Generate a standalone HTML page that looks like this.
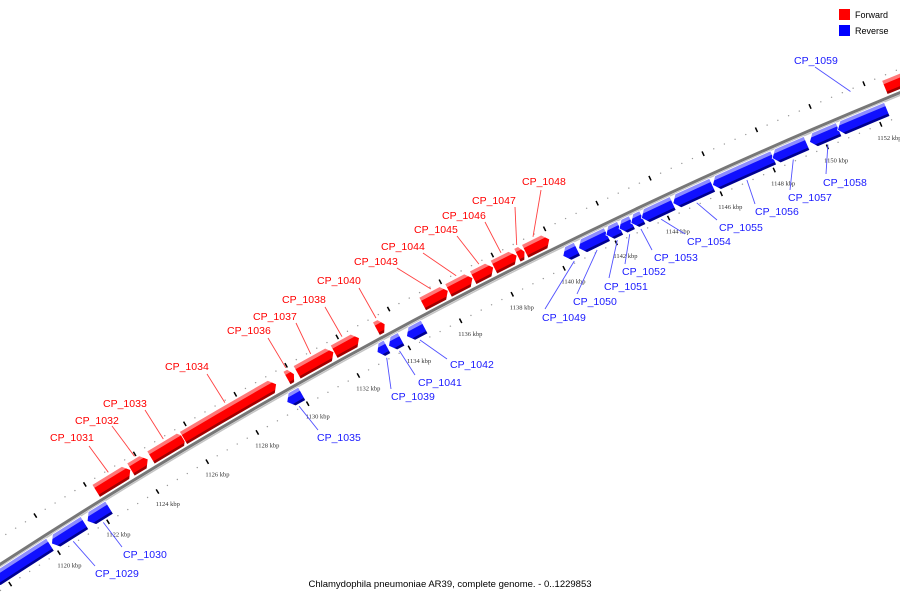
<!DOCTYPE html>
<html><head><meta charset="utf-8"><title>Genome map</title>
<style>html,body{margin:0;padding:0;background:#fff}svg{display:block}</style></head>
<body>
<svg id="chart" width="900" height="600" viewBox="0 0 900 600" xmlns="http://www.w3.org/2000/svg">
<defs id="defs"></defs>
<g id="rings"></g>
<g id="backbone"></g>
<g id="genes"></g>
<g id="labels"></g>
<g>
<rect x="839" y="9" width="11" height="11" fill="#ff0000"/>
<text x="855" y="18" font-family="Liberation Sans, sans-serif" font-size="9" fill="#000">Forward</text>
<rect x="839" y="25" width="11" height="11" fill="#0000ff"/>
<text x="855" y="34" font-family="Liberation Sans, sans-serif" font-size="9" fill="#000">Reverse</text>
</g>
<text x="450" y="587" text-anchor="middle" font-family="Liberation Sans, sans-serif" font-size="9.5" fill="#000">Chlamydophila pneumoniae AR39, complete genome. - 0..1229853</text>
</svg>
<script>
// gene data (kbp)
const fwdNames  = ["CP_1031","CP_1032","CP_1033","CP_1034","CP_1036","CP_1037","CP_1038","CP_1040","CP_1043","CP_1044","CP_1045","CP_1046","CP_1047","CP_1048",""];
const fwdStarts = [1122.2,1123.6,1124.4,1125.7,1129.8,1130.2,1131.65,1133.3,1135.1,1136.1,1137.05,1137.85,1138.75,1139.05,1152.6];
const fwdEnds   = [1123.6,1124.3,1125.8,1129.4,1130.1,1131.65,1132.65,1133.65,1136.1,1137.05,1137.85,1138.75,1139.05,1140.0,1154.0];
const revNames  = ["","CP_1029","CP_1030","CP_1035","CP_1039","CP_1041","CP_1042","CP_1049","CP_1050","CP_1051","CP_1052","CP_1053","CP_1054","CP_1055","CP_1056","CP_1057","CP_1058","CP_1059"];
const revStarts = [1117.5,1119.95,1121.4,1129.4,1132.95,1133.4,1134.1,1140.15,1140.75,1141.8,1142.3,1142.75,1143.15,1144.35,1145.85,1148.1,1149.5,1150.55];
const revEnds   = [1119.9,1121.3,1122.3,1130.0,1133.35,1133.9,1134.8,1140.7,1141.85,1142.35,1142.8,1143.2,1144.35,1145.85,1148.15,1149.4,1150.6,1152.4];
const tickKbp   = [1120,1122,1124,1126,1128,1130,1132,1134,1136,1138,1140,1142,1144,1146,1148,1150,1152];
const tickLabels= ["1120 kbp","1122 kbp","1124 kbp","1126 kbp","1128 kbp","1130 kbp","1132 kbp","1134 kbp","1136 kbp","1138 kbp","1140 kbp","1142 kbp","1144 kbp","1146 kbp","1148 kbp","1150 kbp","1152 kbp"];
// label layout (pixel placement of label text and leader start), keyed by name
const labelLayout = {
 "CP_1031":[50,437,89,446,1],"CP_1032":[75,420,112,426,1],"CP_1033":[103,403,145,410,1],
 "CP_1034":[165,366,207,374,1],"CP_1036":[227,330,268,338,1],"CP_1037":[253,316,296,323,1],
 "CP_1038":[282,299,325,307,1],"CP_1040":[317,280,359,288,1],"CP_1043":[354,261,397,268,1],
 "CP_1044":[381,246,423,253,1],"CP_1045":[414,229,457,236,1],"CP_1046":[442,215,485,222,1],
 "CP_1047":[472,200,515,207,1],"CP_1048":[522,181,541,190,1],
 "CP_1029":[95,573,95,566,-1],"CP_1030":[123,554,122,547,-1],"CP_1035":[317,437,318,430,-1],
 "CP_1039":[391,396,391,389,-1],"CP_1041":[418,382,415,375,-1],"CP_1042":[450,364,447,359,-1],
 "CP_1049":[542,317,545,309,-1],"CP_1050":[573,301,577,294,-1],"CP_1051":[604,286,609,278,-1],
 "CP_1052":[622,271,625,264,-1],"CP_1053":[654,257,652,250,-1],"CP_1054":[687,241,685,234,-1],
 "CP_1055":[719,227,717,220,-1],"CP_1056":[755,211,755,204,-1],"CP_1057":[788,197,790,190,-1],
 "CP_1058":[823,182,826,174,-1],"CP_1059":[794,60,815,67,1]
};

const NS="http://www.w3.org/2000/svg";
const R=5408, CX=2950, CY=5097, TH0=-2.1374, S=0.005384;
function pt(p,r){const t=TH0+(p-1120)*S;return [CX+r*Math.cos(t),CY+r*Math.sin(t)];}
function f(a){return a[0].toFixed(2)+","+a[1].toFixed(2);}
function arc(p1,p2,r){return "M"+f(pt(p1,r))+" A"+r+","+r+" 0 0 1 "+f(pt(p2,r));}
function mk(tag,attrs,parent){const e=document.createElementNS(NS,tag);for(const k in attrs)e.setAttribute(k,attrs[k]);parent.appendChild(e);return e;}

const rings=document.getElementById('rings');
[R+22,R-22].forEach(function(rr){
  for(let p=1116;p<=1156;p+=0.4){
    const q=pt(p,rr);
    const d=mk('circle',{cx:q[0].toFixed(2),cy:q[1].toFixed(2),r:0.7,fill:'#999'},rings);
    
    
  }
});
tickKbp.forEach(function(p,i){
  [R+22,R-22].forEach(function(rr){
    const a=pt(p,rr-2.5),b=pt(p,rr+2.5);
    const l=mk('line',{x1:a[0],y1:a[1],x2:b[0],y2:b[1],stroke:'#000','stroke-width':1.5},rings);
    
    
  });
  const q=pt(p,R-34);
  const t=mk('text',{x:(q[0]-8).toFixed(1),y:(q[1]+4.5).toFixed(1),'font-family':'Liberation Serif, serif','font-size':'6.5',fill:'#333'},rings);
  t.textContent=tickLabels[i];
  
  
});
// extra ticks outside labelled range (no labels)
[1118,1154].forEach(function(p){
  [R+22,R-22].forEach(function(rr){
    const a=pt(p,rr-2.5),b=pt(p,rr+2.5);
    const l=mk('line',{x1:a[0],y1:a[1],x2:b[0],y2:b[1],stroke:'#000','stroke-width':1.5},rings);
    
    
  });
});

const bb=document.getElementById('backbone');
let b1=mk('path',{d:arc(1115,1157,R),fill:'none',stroke:'#777','stroke-width':3},bb);


let b2=mk('path',{d:arc(1115,1157,R-2.5),fill:'none',stroke:'#c4c4c4','stroke-width':1.5},bb);



const genes=document.getElementById('genes'), defs=document.getElementById('defs'), labels=document.getElementById('labels');
let gid=0;
function gene(p1,p2,dir,name){
  const rIn = dir>0? R+3 : R-3, rOut = dir>0? R+18 : R-18;
  const rMid=(rIn+rOut)/2;
  const a=Math.min(0.2,(p2-p1)*0.45);
  let d;
  if(dir>0){
    d="M"+f(pt(p1,rIn))+" L"+f(pt(p1,rOut))+" A"+rOut+","+rOut+" 0 0 1 "+f(pt(p2-a,rOut))+" L"+f(pt(p2,rMid))+" L"+f(pt(p2-a,rIn))+" A"+rIn+","+rIn+" 0 0 0 "+f(pt(p1,rIn))+" Z";
  } else {
    d="M"+f(pt(p2,rIn))+" L"+f(pt(p2,rOut))+" A"+rOut+","+rOut+" 0 0 0 "+f(pt(p1+a,rOut))+" L"+f(pt(p1,rMid))+" L"+f(pt(p1+a,rIn))+" A"+rIn+","+rIn+" 0 0 1 "+f(pt(p2,rIn))+" Z";
  }
  const id='gc'+(gid++);
  const cp=mk('clipPath',{id:id},defs); mk('path',{d:d},cp);
  const main = dir>0?'#ff0000':'#1010ff', light=dir>0?'#ff7878':'#8c8cff', dark=dir>0?'#a00000':'#000090';
  const g=mk('g',{},genes);
  
  
  mk('path',{d:d,fill:main},g);
  const rTop = dir>0? rOut-2 : rIn-2;
  const rBot = dir>0? rIn+1.5 : rOut+1.5;
  mk('path',{d:arc(p1-1,p2+1,rTop),fill:'none',stroke:light,'stroke-width':4,'clip-path':'url(#'+id+')'},g);
  mk('path',{d:arc(p1-1,p2+1,rBot),fill:'none',stroke:dark,'stroke-width':3,'clip-path':'url(#'+id+')'},g);
  mk('path',{d:d,fill:'none',stroke:'#fff','stroke-width':0.8},g);
  if(name && labelLayout[name]){
    const L=labelLayout[name], col=dir>0?'#ff0000':'#1a1aff';
    const side=L[4]>0? R+20 : R-20;
    const e=pt((p1+p2)/2,side);
    const ln=mk('line',{x1:L[2],y1:L[3],x2:e[0].toFixed(1),y2:e[1].toFixed(1),stroke:dir>0?'#ff4040':'#5050ff','stroke-width':0.9},labels);
    
    
    const t=mk('text',{x:L[0],y:L[1]+4,'font-family':'Liberation Sans, sans-serif','font-size':'10.5',fill:col},labels);
    t.textContent=name;
    
    
  }
}
fwdNames.forEach(function(n,i){gene(fwdStarts[i],fwdEnds[i],1,n);});
revNames.forEach(function(n,i){gene(revStarts[i],revEnds[i],-1,n);});
</script>
</body></html>
